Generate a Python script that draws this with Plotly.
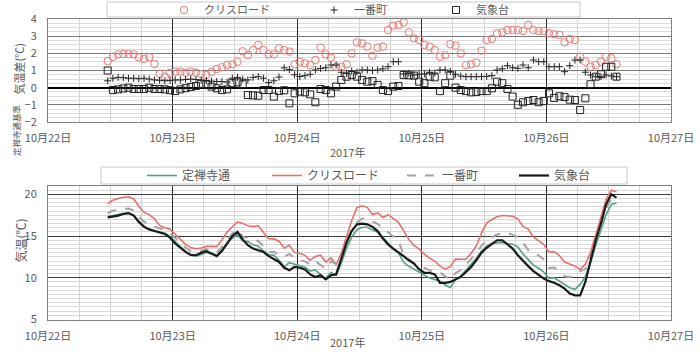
import plotly.graph_objects as go
import pandas as pd

FONT = "Noto Sans CJK JP"
TXT = "#595959"

START = "2017-10-22 11:30"   # first hourly reading
X_RANGE = ["2017-10-22", "2017-10-27"]
YEAR_LABEL = "2017年"

# ---- top chart: difference to 定禅寺通 (℃) ----
DIFF_KURISU = [
    1.55, 1.80, 1.94, 1.96, 1.96, 1.94, 1.77, 1.67, 1.77, 1.38,
    0.80, 0.64, 0.87, 0.93, 0.93, 0.87, 0.93, 0.87, 0.78, 0.74,
    0.92, 1.09, 1.19, 1.32, 1.36, 1.51, 2.12, 1.90, 2.19, 2.49,
    2.19, 1.94, 1.94, 2.29, 2.19, 2.10, 1.36, 1.51, 1.42, 1.32,
    1.61, 2.33, 1.94, 1.75, 1.22, 1.22, 1.36, 2.00, 2.64, 2.58,
    2.39, 1.86, 2.33, 2.39, 3.36, 3.61, 3.65, 3.80, 3.22, 2.87,
    2.78, 2.49, 2.39, 2.19, 1.80, 1.90, 2.53, 2.45, 2.00, 1.32,
    1.36, 1.46, 2.15, 2.78, 2.84, 3.17, 3.22, 3.36, 3.36, 3.36,
    3.30, 3.65, 3.36, 3.30, 3.30, 3.17, 3.11, 3.07, 2.64, 2.84,
    2.78, 1.80, 1.51, 1.22, 1.32, 1.51, 1.80, 1.71, 1.36]
DIFF_ICHIBAN = [
    0.40, 0.55, 0.60, 0.58, 0.55, 0.55, 0.52, 0.55, 0.50, 0.45,
    0.43, 0.40, 0.42, 0.45, 0.45, 0.48, 0.50, 0.48, 0.45, 0.42,
    0.38, 0.36, 0.35, 0.33, 0.55, 0.60, 0.50, 0.45, 0.60, 0.64,
    0.55, 0.30, 0.40, 0.62, 1.15, 1.05, 0.75, 0.65, 0.70, 0.78,
    1.03, 1.12, 1.16, 1.32, 1.32, 0.90, 0.84, 0.97, 0.90, 1.03,
    1.03, 1.00, 1.03, 1.10, 1.22, 1.51, 1.51, 0.80, 0.84, 0.74,
    0.78, 0.80, 0.90, 0.85, 1.03, 1.03, 0.95, 0.78, 0.68, 0.64,
    0.64, 0.64, 0.64, 0.66, 0.70, 1.03, 1.10, 1.28, 1.16, 1.13,
    1.32, 1.16, 1.61, 1.51, 1.51, 1.22, 1.22, 1.22, 0.93, 1.28,
    1.61, 1.61, 0.90, 0.74, 0.64, 0.64, 0.74, 0.68, 0.64]
DIFF_KISHO = [
    1.00, -0.14, -0.10, -0.05, 0.00, -0.08, -0.08, -0.08, 0.00, -0.08,
    -0.08, -0.10, -0.15, -0.20, -0.10, -0.03, 0.04, 0.10, 0.22, 0.18,
    0.06, -0.04, -0.14, -0.10, 0.26, 0.31, 0.20, -0.43, -0.45, -0.47,
    -0.14, -0.14, -0.52, -0.20, -0.15, -0.91, -0.33, -0.23, -0.27, -0.39,
    -0.85, -0.08, -0.14, -0.33, 0.06, 0.45, 0.64, 0.74, 0.64, 0.45,
    0.35, 0.38, 0.16, -0.14, -0.20, 0.06, 0.10, 0.74, 0.72, 0.70,
    0.35, 0.26, 0.64, 0.60, -0.20, 0.26, 0.70, 0.00, -0.14, -0.20,
    -0.27, -0.25, -0.20, -0.20, -0.04, 0.35, 0.26, -0.08, -0.52, -1.00,
    -0.85, -0.78, -0.72, -0.85, -0.78, -0.33, -0.60, -0.50, -0.55, -0.70,
    -0.72, -1.30, -0.62, 0.20, 0.64, 0.78, 1.22, 1.22, 0.64]

# ---- bottom chart: air temperature (℃) ----
TEMP_JOZENJI = [
    17.35, 17.49, 17.55, 17.70, 17.75, 17.53, 16.78, 16.18, 15.80, 15.68,
    15.48, 15.35, 14.95, 14.30, 13.70, 13.13, 12.71, 12.60, 12.78, 13.02,
    12.84, 12.64, 13.34, 14.20, 14.74, 15.19, 14.40, 14.33, 13.95, 13.77,
    13.24, 12.74, 12.72, 12.10, 11.35, 11.81, 11.63, 11.43, 11.27, 10.79,
    10.95, 10.38, 9.94, 10.63, 10.34, 11.75, 13.56, 14.86, 15.76, 16.05,
    16.05, 15.72, 15.44, 14.84, 14.20, 13.44, 13.00, 11.86, 11.38, 11.00,
    10.65, 10.34, 9.96, 9.80, 9.60, 9.14, 8.80, 9.80, 10.24, 10.90,
    11.57, 12.35, 13.20, 13.80, 14.14, 14.15, 14.24, 14.08, 14.02, 13.70,
    12.85, 12.18, 11.52, 11.15, 10.68, 9.93, 10.00, 9.60, 9.25, 8.80,
    8.62, 9.20, 10.12, 11.80, 13.86, 15.72, 17.58, 18.78, 18.96]
TEMP_KISHO = [
    17.25, 17.35, 17.45, 17.65, 17.75, 17.45, 16.70, 16.10, 15.80, 15.60,
    15.40, 15.25, 14.80, 14.10, 13.60, 13.10, 12.75, 12.70, 13.00, 13.20,
    12.90, 12.60, 13.20, 14.10, 15.00, 15.50, 14.60, 13.90, 13.50, 13.30,
    13.10, 12.60, 12.20, 11.90, 11.20, 10.90, 11.30, 11.20, 11.00, 10.40,
    10.10, 10.30, 9.80, 10.30, 10.40, 12.20, 14.20, 15.60, 16.40, 16.50,
    16.40, 16.10, 15.60, 14.70, 14.00, 13.50, 13.10, 12.60, 12.10, 11.70,
    11.00, 10.60, 10.60, 10.40, 9.40, 9.40, 9.50, 9.80, 10.10, 10.70,
    11.30, 12.10, 13.00, 13.60, 14.10, 14.50, 14.50, 14.00, 13.50, 12.70,
    12.00, 11.40, 10.80, 10.30, 9.90, 9.60, 9.40, 9.10, 8.70, 8.10,
    7.90, 7.90, 9.50, 12.00, 14.50, 16.50, 18.80, 20.00, 19.60]

times = pd.date_range(START, periods=len(TEMP_JOZENJI), freq="h")
TEMP_KURISU = [round(j + d, 2) for j, d in zip(TEMP_JOZENJI, DIFF_KURISU)]
TEMP_ICHIBAN = [round(j + d, 2) for j, d in zip(TEMP_JOZENJI, DIFF_ICHIBAN)]

GREEN = "#52a283"
RED = "#e6716b"
RED_M = "#e87a76"
GRAY = "#a3a3a3"
BLACK = "#1a1a1a"

W, H = 700, 364
def px(x):
    return x / W
def py(y):
    return 1 - y / H

fig = go.Figure()

# top chart
fig.add_trace(go.Scatter(x=times, y=DIFF_KURISU, mode="markers", name="クリスロード",
                         marker=dict(symbol="circle-open", size=7.5, color=RED_M, line=dict(width=1, color=RED_M)),
                         xaxis="x", yaxis="y", legend="legend"))
fig.add_trace(go.Scatter(x=times, y=DIFF_ICHIBAN, mode="markers", name="一番町",
                         marker=dict(symbol="cross-thin-open", size=5, color="#222", line=dict(width=1, color="#222")),
                         xaxis="x", yaxis="y", legend="legend2"))
fig.add_trace(go.Scatter(x=times, y=DIFF_KISHO, mode="markers", name="気象台",
                         marker=dict(symbol="square-open", size=7, color="#222", line=dict(width=1, color="#222")),
                         xaxis="x", yaxis="y", legend="legend3"))

# bottom chart
for name, vals, color, width, dash, leg in [
    ("定禅寺通", TEMP_JOZENJI, GREEN, 1.6, "solid", "legend4"),
    ("クリスロード", TEMP_KURISU, RED, 1.6, "solid", "legend5"),
    ("一番町", TEMP_ICHIBAN, GRAY, 2, "dash", "legend6"),
    ("気象台", TEMP_KISHO, BLACK, 2.2, "solid", "legend7"),
]:
    fig.add_trace(go.Scatter(x=times, y=vals, mode="lines", name=name,
                             line=dict(color=color, width=width, dash=dash),
                             xaxis="x2", yaxis="y2", legend=leg))

xcommon = dict(type="date", range=X_RANGE, tick0=X_RANGE[0], dtick=86400000,
               tickformat="%m月%d日", showgrid=True, gridcolor="#2b2b2b", gridwidth=1,
               minor=dict(tick0=X_RANGE[0], dtick=6 * 3600000, showgrid=True, gridcolor="#d2d2d2", gridwidth=1),
               showline=True, linecolor="#808080", linewidth=1, mirror=True, ticks="",
               tickfont=dict(size=11, color=TXT, family=FONT), ticklabelstandoff=6,
               domain=[px(48), px(671)], zeroline=False, automargin=False)

fig.update_layout(
    width=W, height=H, margin=dict(l=0, r=0, t=0, b=0, autoexpand=False),
    paper_bgcolor="white", plot_bgcolor="white",
    font=dict(family=FONT, color=TXT),
    xaxis=dict(xcommon, anchor="y"),
    xaxis2=dict(xcommon, anchor="y2"),
    yaxis=dict(domain=[py(122), py(19)], range=[-2, 4], tick0=0, dtick=1,
               showgrid=True, gridcolor="#7a7a7a", gridwidth=1,
               minor=dict(dtick=0.25, showgrid=True, gridcolor="#dcdcdc", gridwidth=1),
               zeroline=True, zerolinecolor="#000000", zerolinewidth=2,
               showline=True, linecolor="#808080", mirror=True, ticks="", automargin=False,
               tickfont=dict(size=11, color=TXT, family=FONT), ticklabelstandoff=8),
    yaxis2=dict(domain=[py(319.5), py(186)], range=[5, 21], tick0=5, dtick=5,
                tickvals=[5, 10, 15, 20],
                showgrid=True, gridcolor="#3c3c3c", gridwidth=1,
                minor=dict(dtick=0.5, tick0=5, showgrid=True, gridcolor="#d8d8d8", gridwidth=1),
                zeroline=False, automargin=False,
                showline=True, linecolor="#808080", mirror=True, ticks="",
                tickfont=dict(size=11, color=TXT, family=FONT), ticklabelstandoff=8),
    showlegend=True,
)

# legends (one per entry, positioned like the original)
def leg(x, y, size):
    return dict(x=px(x), y=py(y), xanchor="left", yanchor="middle", orientation="h",
                bgcolor="rgba(0,0,0,0)", borderwidth=0,
                font=dict(size=size, color=TXT, family=FONT))

fig.update_layout(
    legend=leg(164, 10, 11), legend2=leg(314, 10, 11), legend3=leg(436, 10, 11),
    legend4=leg(142, 175.5, 12), legend5=leg(267, 175.5, 12),
    legend6=leg(402, 175.5, 12), legend7=leg(514, 175.5, 12),
)

# legend boxes
fig.add_shape(type="rect", xref="paper", yref="paper", x0=px(107), x1=px(580), y0=py(17), y1=py(2),
              line=dict(color="#c8c8c8", width=1), fillcolor="white", layer="below")
fig.add_shape(type="rect", xref="paper", yref="paper", x0=px(101), x1=px(627), y0=py(184), y1=py(167),
              line=dict(color="#c8c8c8", width=1), fillcolor="white", layer="below")

# axis titles
fig.add_annotation(text=YEAR_LABEL, xref="paper", yref="paper", x=px(347), y=py(152),
                   showarrow=False, font=dict(size=11, color=TXT, family=FONT))
fig.add_annotation(text=YEAR_LABEL, xref="paper", yref="paper", x=px(347), y=py(352),
                   showarrow=False, font=dict(size=11, color=TXT, family=FONT))
fig.add_annotation(text="気温差(℃)", xref="paper", yref="paper", x=px(8), y=py(42), textangle=-90,
                   showarrow=False, font=dict(size=11, color=TXT, family=FONT))
fig.add_annotation(text="定禅寺通基準", xref="paper", yref="paper", x=px(8), y=py(102), textangle=-90,
                   showarrow=False, font=dict(size=8.5, color=TXT, family=FONT))
fig.add_annotation(text="気温(℃)", xref="paper", yref="paper", x=px(9), y=py(265), textangle=-90,
                   showarrow=False, font=dict(size=12, color=TXT, family=FONT))

fig.write_html("out.html")
